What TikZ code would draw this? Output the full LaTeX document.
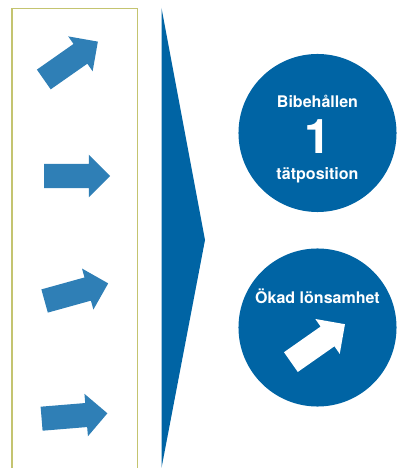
\documentclass[tikz,border=0pt]{standalone}
\usepackage{fontspec}
\setmainfont{TeX Gyre Heros}
\usepackage{tikz}
\usetikzlibrary{calc, shapes.arrows}
\usepackage{tkz-euclide}
\definecolor{deepblue}{RGB}{0,100,164}
\definecolor{arrowblue}{RGB}{47,127,182}
\definecolor{framegreen}{RGB}{196,196,112}

\begin{document}
\begin{tikzpicture}[x=0.025cm, y=0.025cm,
    blockarrow/.style={single arrow, fill=arrowblue, inner xsep=0pt, inner ysep=0.294cm,
        single arrow head extend=0.231cm, minimum width=1.05cm, minimum height=1.65cm},
    disc/.style={circle, fill=deepblue, minimum size=3.95cm, inner sep=0pt},
    disctext/.style={text=white, anchor=base, inner sep=0pt, font=\fontsize{11.4}{13}\selectfont\bfseries}]
            \useasboundingbox (0,0) rectangle (398,468);
            \tkzDefPoints{12/0/F1, 12/459.5/F2, 137.5/459.5/F3, 137.5/0/F4}
            \tkzDefPoints{161.5/460/T1, 205/228/T2, 161.5/0/T3}
            \tkzDefPoints{317.5/335/K, 317.5/140.5/G}
            \draw[framegreen, line width=1.1pt] (F1) -- (F2) -- (F3) -- (F4);
            \tkzFillPolygon[color=deepblue](T1,T2,T3)
            % trend arrows in the frame
            \node[blockarrow, rotate=35] (trend1) at (65.9,404) {};
            \node[blockarrow] (trend2) at (71.2,292) {};
            \node[blockarrow, rotate=15.5] (trend3) at (70.6,174.2) {};
            \node[blockarrow, rotate=4.7] (trend4) at (68.5,51.5) {};
            % results
            \node[disc] (keep) at (K) {};
            \node[disc] (growth) at (G) {};
            \node[disctext] (keeptop) at ($(keep)+(0,25.3)$) {Bibehållen};
            \node[disctext, font=\fontsize{34}{34}\selectfont\bfseries] (keepone) at ($(keep)+(0,-21)$) {1};
            \node[disctext] (keepbot) at ($(keep)+(0,-47)$) {tätposition};
            \node[disctext] (growthtop) at ($(growth)+(0,23.5)$) {Ökad lönsamhet};
            \node[blockarrow, fill=white, rotate=35] (growthup) at ($(growth)+(-4.5,-19.1)$) {};
        \end{tikzpicture}
\end{document}
